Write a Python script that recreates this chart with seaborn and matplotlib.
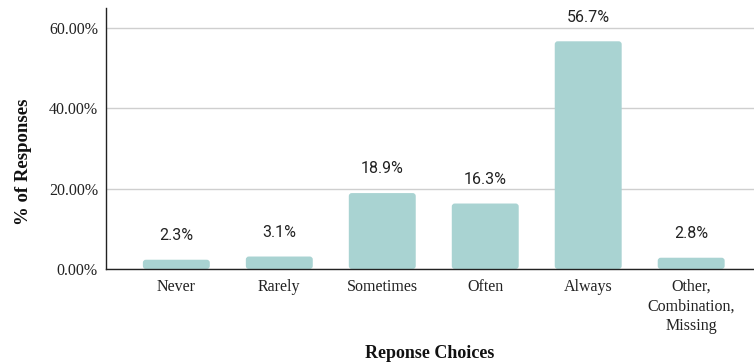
import matplotlib
matplotlib.use("Agg")
import matplotlib.pyplot as plt
from matplotlib.ticker import FuncFormatter
from matplotlib.patches import FancyBboxPatch
import seaborn as sns
import pandas as pd

categories = ["Never", "Rarely", "Sometimes", "Often", "Always",
              "Other,\nCombination,\nMissing"]
percentages = [2.3, 3.1, 18.9, 16.3, 56.7, 2.8]
y_ticks = [0, 20, 40, 60]

df = pd.DataFrame({"choice": categories, "pct": percentages})

sns.set_theme(style="white")
serif = ["Liberation Serif", "DejaVu Serif"]
plt.rcParams["font.family"] = serif

fig, ax = plt.subplots(figsize=(7.54, 3.62), dpi=100)
fig.subplots_adjust(left=0.141, right=1.0, top=0.978, bottom=0.257)

bar_color = "#a9d3d2"
sns.barplot(data=df, x="choice", y="pct", color=bar_color, width=0.65,
            saturation=1, ax=ax, zorder=3)

ax.set_ylim(0, 65)
ax.set_xlim(-0.68, 5.61)

# swap the plain rectangles for bars with softly rounded corners
x_px = ax.bbox.width / (5.61 + 0.68)
y_px = ax.bbox.height / 65.0
radius_px = 3.0
for patch in list(ax.patches):
    x, w, h = patch.get_x(), patch.get_width(), patch.get_height()
    rounded = FancyBboxPatch(
        (x, 0), w, h,
        boxstyle=f"round,pad=0,rounding_size={radius_px / x_px}",
        mutation_aspect=(radius_px / y_px) / (radius_px / x_px),
        facecolor=bar_color, edgecolor="none", zorder=3)
    ax.add_patch(rounded)
    patch.set_visible(False)

for i, val in enumerate(percentages):
    ax.annotate(f"{val:.1f}%", (i, val), xytext=(0, 12), textcoords="offset points",
                ha="center", va="bottom", fontsize=11.5, family="Roboto",
                color="#222222")

ax.set_yticks(y_ticks)
ax.yaxis.set_major_formatter(FuncFormatter(lambda v, _: f"{v:.2f}%"))
ax.yaxis.grid(True, color="#cfcfcf", linewidth=1.0, zorder=0)
ax.set_axisbelow(True)

for side in ("top", "right"):
    ax.spines[side].set_visible(False)
for side in ("left", "bottom"):
    ax.spines[side].set_color("#222222")
    ax.spines[side].set_linewidth(1.0)
    ax.spines[side].set_zorder(4)

ax.tick_params(axis="both", length=0, labelsize=11.5, colors="#222222")
ax.tick_params(axis="x", pad=7)
ax.tick_params(axis="y", pad=6)
for lbl in ax.get_xticklabels():
    lbl.set_linespacing(1.3)

ax.set_xlabel("Reponse Choices", fontsize=13, fontweight="bold", color="#111111")
ax.xaxis.set_label_coords(0.5, -0.29)
ax.set_ylabel("% of Responses", fontsize=13.5, fontweight="bold", color="#111111")
ax.yaxis.set_label_coords(-0.115, 0.41)

fig.savefig("out.png", dpi=100)
